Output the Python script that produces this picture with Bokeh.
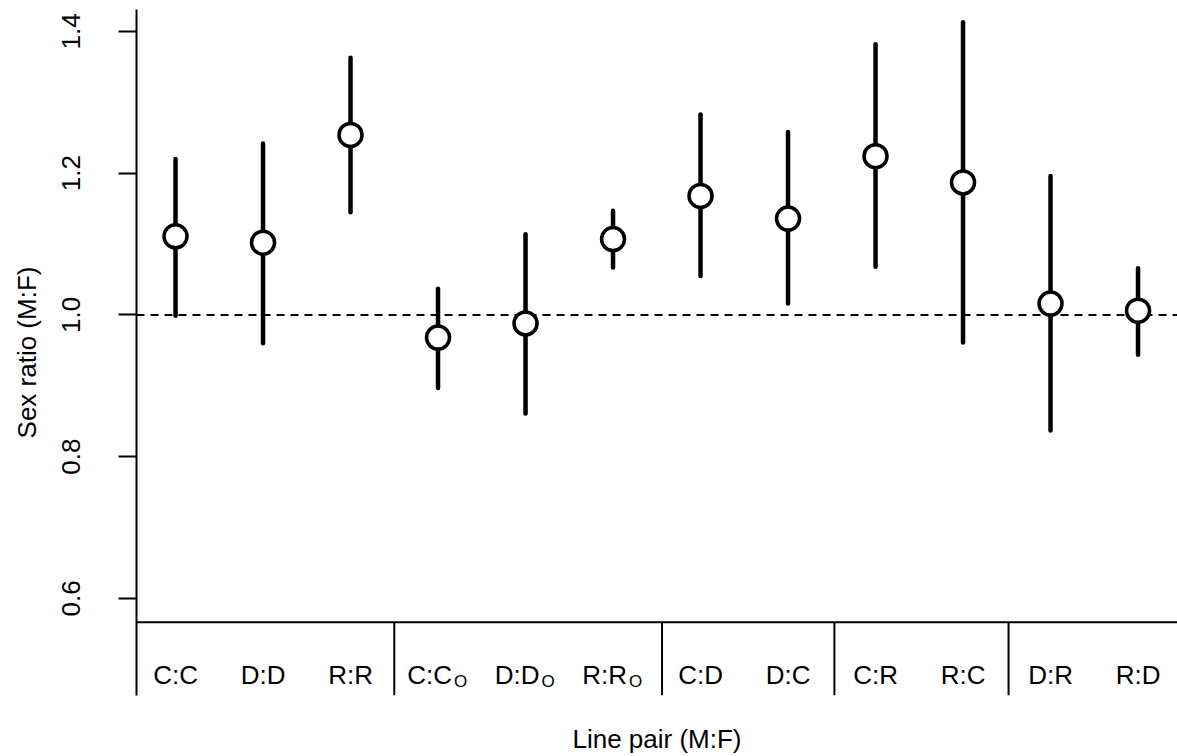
from bokeh.plotting import figure
from bokeh.models import ColumnDataSource, FixedTicker, Span, LinearAxis
from bokeh.core.properties import value
from bokeh.embed import file_html
from bokeh.resources import INLINE

# ---- data ----
pair_main = ["C:C", "D:D", "R:R", "C:C", "D:D", "R:R", "C:D", "D:C", "C:R", "R:C", "D:R", "R:D"]
pair_sub = ["", "", "", "O", "O", "O", "", "", "", "", "", ""]
ratio = [1.111, 1.102, 1.254, 0.968, 0.988, 1.107, 1.168, 1.136, 1.224, 1.187, 1.016, 1.006]
lower = [0.999, 0.960, 1.145, 0.897, 0.861, 1.067, 1.055, 1.016, 1.068, 0.961, 0.837, 0.944]
upper = [1.220, 1.242, 1.363, 1.037, 1.114, 1.147, 1.283, 1.258, 1.382, 1.413, 1.196, 1.066]
y_ticks = [0.6, 0.8, 1.0, 1.2, 1.4]
y_tick_labels = ["0.6", "0.8", "1.0", "1.2", "1.4"]
group_bounds = [3.5, 6.56, 8.53, 10.52]

FONT = "Liberation Sans"
xs = list(range(1, len(ratio) + 1))

p = figure(width=1177, height=756, x_range=(0.554, 12.451), y_range=(0.463, 1.431),
           output_backend="svg", toolbar_location=None,
           min_border_left=136, min_border_right=0, min_border_top=9, min_border_bottom=60,
           outline_line_color=None, background_fill_color="white", border_fill_color="white")
p.grid.visible = False
p.xaxis.visible = False

# y axis
ya = p.yaxis[0]
ya.ticker = FixedTicker(ticks=y_ticks)
ya.major_label_overrides = {t: s for t, s in zip(y_ticks, y_tick_labels)}
ya.major_label_orientation = "vertical"
ya.major_tick_out = 18
ya.major_tick_in = 0
ya.minor_tick_out = 0
ya.minor_tick_in = 0
ya.major_tick_line_width = 2
ya.axis_line_width = 2
ya.major_label_text_font = FONT
ya.major_label_text_font_size = "26px"
ya.major_label_text_color = "black"
ya.major_label_standoff = 38
ya.axis_label = "Sex ratio (M:F)"
ya.axis_label_text_font = FONT
ya.axis_label_text_font_size = "26px"
ya.axis_label_text_font_style = "normal"
ya.axis_label_text_color = "black"
ya.axis_label_standoff = 18

# x axis (label only)
xa = LinearAxis(ticker=FixedTicker(ticks=[]), axis_line_color=None,
                major_tick_out=0, major_tick_in=0, minor_tick_out=0, minor_tick_in=0,
                major_label_standoff=0,
                axis_label="Line pair (M:F)", axis_label_text_font=FONT,
                axis_label_text_font_size="26px", axis_label_text_font_style="normal",
                axis_label_text_color="black", axis_label_standoff=28)
p.add_layout(xa, "below")

y_base = p.y_range.start
y_band = 1.0 - (623 - 315) / 710.0

# reference line at 1
p.add_layout(Span(location=1.0, dimension="width", line_color="black",
                  line_width=2, line_dash="8 6", level="underlay"))
# horizontal line separating label band
p.add_layout(Span(location=y_band, dimension="width", line_color="black",
                  line_width=2))
# group separators
p.segment(x0=group_bounds, x1=group_bounds, y0=[y_band] * len(group_bounds),
          y1=[y_base] * len(group_bounds), line_color="black", line_width=2)

src = ColumnDataSource(dict(x=xs, r=ratio, lo=lower, hi=upper, main=pair_main, sub=pair_sub))
p.segment(x0="x", x1="x", y0="lo", y1="hi", source=src, line_color="black",
          line_width=4.5, line_cap="round")
p.scatter(x="x", y="r", source=src, size=23, fill_color="white", line_color="black",
          line_width=3.5)

# category labels
y_lab = 1.0 - (676 - 315) / 710.0
plain = [i for i, s in enumerate(pair_sub) if s == ""]
subd = [i for i, s in enumerate(pair_sub) if s != ""]
p.text(x=[xs[i] for i in plain], y=[y_lab] * len(plain), text=[pair_main[i] for i in plain],
       text_align="center", text_baseline="alphabetic", text_font=value(FONT),
       text_font_size="26px", text_color="black")
p.text(x=[xs[i] for i in subd], y=[y_lab] * len(subd), text=[pair_main[i] for i in subd],
       text_align="right", text_baseline="alphabetic", text_font=value(FONT),
       text_font_size="26px", text_color="black", x_offset=14)
p.text(x=[xs[i] for i in subd], y=[y_lab] * len(subd), text=[pair_sub[i] for i in subd],
       text_align="left", text_baseline="alphabetic", text_font=value(FONT),
       text_font_size="17px", text_color="black", x_offset=16, y_offset=6)

open("out.html", "w").write(file_html(p, INLINE))
